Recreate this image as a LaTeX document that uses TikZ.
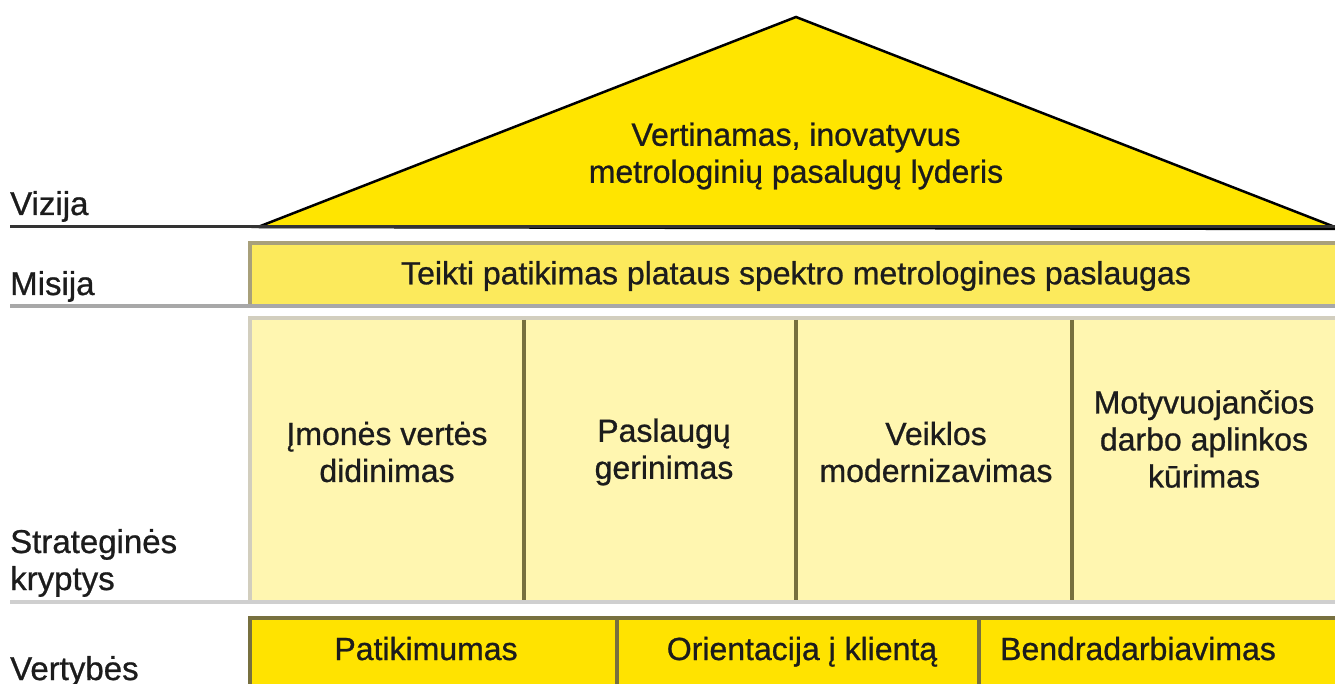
\documentclass[tikz,border=0pt]{standalone}
\usepackage{fontspec}
\setmainfont{Liberation Sans}[BoldFont={Liberation Sans}, BoldFeatures={FakeBold=0.8}]
\definecolor{roof}{HTML}{FFE500}
\definecolor{mis}{HTML}{FCEA5C}
\definecolor{strat}{HTML}{FFF6B0}
\definecolor{vert}{HTML}{FFE300}
\definecolor{olive}{HTML}{77703F}
\definecolor{misedge}{HTML}{A8A07A}
\definecolor{lightedge}{HTML}{D2CEBE}
\definecolor{txt}{HTML}{1C1C1C}
\definecolor{gline}{HTML}{A8A8A8}
\definecolor{lgline}{HTML}{CFCFCF}
\tikzset{
  lbl/.style={text=txt, font=\fontsize{33}{37}\selectfont\bfseries, inner sep=0pt, align=left},
  txtnode/.style={text=txt, font=\fontsize{32}{37}\selectfont\bfseries, inner sep=0pt, align=center},
}
\begin{document}
\begin{tikzpicture}[x=1pt,y=-1pt]
\useasboundingbox (0,0) rectangle (1335,684);
\clip (0,0) rectangle (1335,684);
% roof
\draw[fill=roof, draw=black, line width=2.5pt, line join=miter] (258,227) -- (796,17) -- (1340,229) -- cycle;
\draw[line width=3pt, draw=black!80] (10,227) -- (1340,227);
\node[txtnode] (vision) at (796,156) {Vertinamas, inovatyvus\\metrologinių pasalugų lyderis};
% mission
\fill[mis] (250,243) rectangle (1340,306);
\draw[misedge, line width=4pt] (1340,243) -- (250,243) -- (250,306);
\draw[gline, line width=4pt] (10,306) -- (1340,306);
\node[txtnode] (mission) at (796,276) {Teikti patikimas plataus spektro metrologines paslaugas};
% strategy
\fill[strat] (250,318) rectangle (1340,602);
\draw[lightedge, line width=4pt] (1340,318) -- (250,318) -- (250,602);
\draw[lgline, line width=4pt] (10,602) -- (1340,602);
\foreach \xx in {524,796,1072} \draw[olive, line width=4pt] (\xx,320) -- (\xx,600);
\node[txtnode] (s1) at (387,452) {Įmonės vertės\\didinimas};
\node[txtnode] (s2) at (664,452) {Paslaugų\\gerinimas};
\node[txtnode] (s3) at (936,452) {Veiklos\\modernizavimas};
\node[txtnode] (s4) at (1204,439) {Motyvuojančios\\darbo aplinkos\\kūrimas};
% values
\draw[fill=vert, draw=olive, line width=4pt] (250,618) rectangle (1345,700);
\foreach \xx in {617,979} \draw[olive, line width=4pt] (\xx,618) -- (\xx,700);
\node[txtnode, anchor=base] (v1) at (426,660) {Patikimumas};
\node[txtnode, anchor=base] (v2) at (802,660) {Orientacija į klientą};
\node[txtnode, anchor=base] (v3) at (1138,660) {Bendradarbiavimas};
% labels
\node[lbl, anchor=base west] (lv) at (10,215) {Vizija};
\node[lbl, anchor=base west] (lm) at (10,295) {Misija};
\node[lbl, anchor=base west] (ls) at (10,590) {Strateginės\\kryptys};
\node[lbl, anchor=base west] (lval) at (10,680) {Vertybės};
\end{tikzpicture}
\end{document}
